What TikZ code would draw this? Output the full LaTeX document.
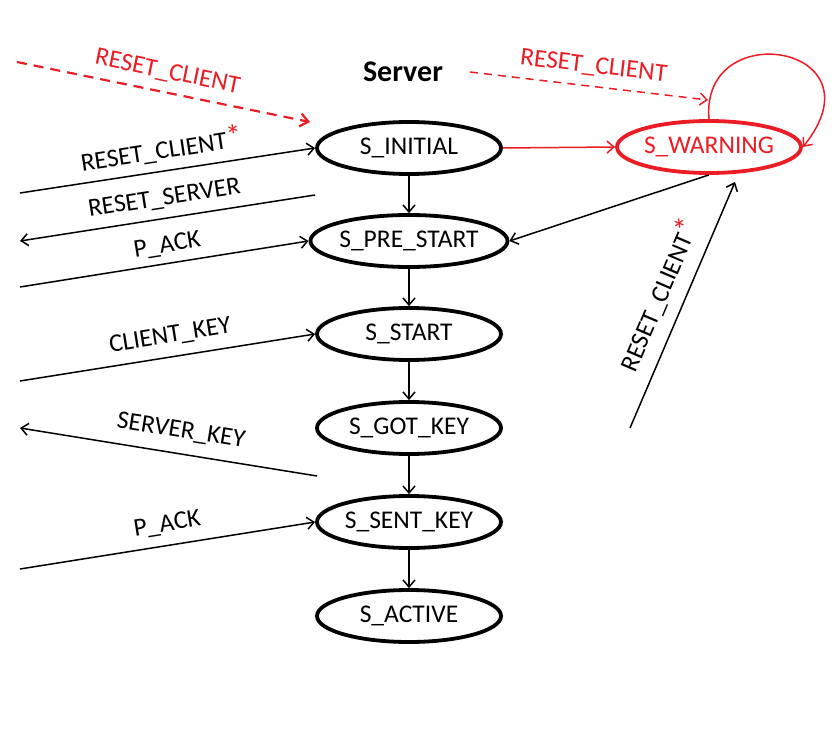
\documentclass[tikz,border=0pt]{standalone}
\usepackage{fontspec}
\setmainfont{Carlito}
\usetikzlibrary{arrows.meta,shapes.geometric}
\definecolor{myred}{RGB}{236,28,36}
\newcommand{\redast}{\raisebox{1pt}{\textcolor{myred}{\fontsize{31}{36}\selectfont *}}}
\begin{document}
\begin{tikzpicture}[x=1pt,y=-1pt,
  >={Straight Barb[length=7pt,width=12pt]},
  lbl/.style={font=\fontsize{25.5}{30}\selectfont, inner sep=0pt},
  st/.style={ellipse, draw, line width=3.8pt, minimum width=184pt, minimum height=52pt, inner sep=0pt, font=\fontsize{25.5}{30}\selectfont},
  conn/.style={line width=1.5pt}
]
\path[use as bounding box] (0,0) rectangle (840,746);

\node[font=\bfseries\fontsize{30}{36}\selectfont] (title) at (403,72) {Server};

\node[st] (s1) at (409,148) {S\_INITIAL};
\node[st] (s2) at (409,241) {S\_PRE\_START};
\node[st] (s3) at (409,334) {S\_START};
\node[st] (s4) at (409,428) {S\_GOT\_KEY};
\node[st] (s5) at (409,522) {S\_SENT\_KEY};
\node[st] (s6) at (409,616) {S\_ACTIVE};
\node[st, draw=myred, text=myred] (w) at (709,147) {S\_WARNING};

% vertical chain
\draw[conn,->] (s1.south) -- (s2.north);
\draw[conn,->] (s2.south) -- (s3.north);
\draw[conn,->] (s3.south) -- (s4.north);
\draw[conn,->] (s4.south) -- (s5.north);
\draw[conn,->] (s5.south) -- (s6.north);

% to warning
\draw[conn,->,myred] (s1.east) -- (w.west);
\draw[conn,->,myred] (w.north) .. controls (700,15) and (885,45) .. (w.east);
\draw[conn,->] (w.south) -- (s2.east);

% free ends
\coordinate (d1s) at (17,62);   \coordinate (d1e) at (310,122);
\coordinate (d2s) at (470,72);  \coordinate (d2e) at (708,100);
\coordinate (a1) at (20,193);
\coordinate (a2l) at (20,241);  \coordinate (a2r) at (315,195);
\coordinate (a3) at (20,287);
\coordinate (a4) at (20,381);
\coordinate (a5l) at (20,428);  \coordinate (a5r) at (317,476);
\coordinate (a6) at (20,569);
\coordinate (rc) at (630,428);  \coordinate (rce) at (735,182);

% dashed red
\draw[myred, line width=2.2pt, dash pattern=on 10pt off 7pt, -{Straight Barb[length=8pt,width=13pt]}] (d1s) -- node[pos=0.5, sloped, above=9pt, lbl] {RESET\_CLIENT} (d1e);
\draw[myred, conn, dash pattern=on 8pt off 6pt, ->] (d2s) -- node[pos=0.51, sloped, above=9pt, lbl] {RESET\_CLIENT} (d2e);

% left messages
\draw[conn,->] (a1) -- node[pos=0.49, sloped, above=8pt, lbl] {RESET\_CLIENT\redast} (s1.west);
\draw[conn,<-] (a2l) -- node[pos=0.50, sloped, above=9pt, lbl] {RESET\_SERVER} (a2r);
\draw[conn,->] (a3) -- node[pos=0.52, sloped, above=7pt, lbl] {P\_ACK} (s2.west);
\draw[conn,->] (a4) -- node[pos=0.52, sloped, above=10pt, lbl] {CLIENT\_KEY} (s3.west);
\draw[conn,<-] (a5l) -- node[pos=0.53, sloped, above=12pt, lbl] {SERVER\_KEY} (a5r);
\draw[conn,->] (a6) -- node[pos=0.51, sloped, above=10pt, lbl] {P\_ACK} (s5.west);

% right message
\draw[conn,->] (rc) -- node[pos=0.5, sloped, above=12pt, lbl] {RESET\_CLIENT\redast} (rce);
\end{tikzpicture}
\end{document}
